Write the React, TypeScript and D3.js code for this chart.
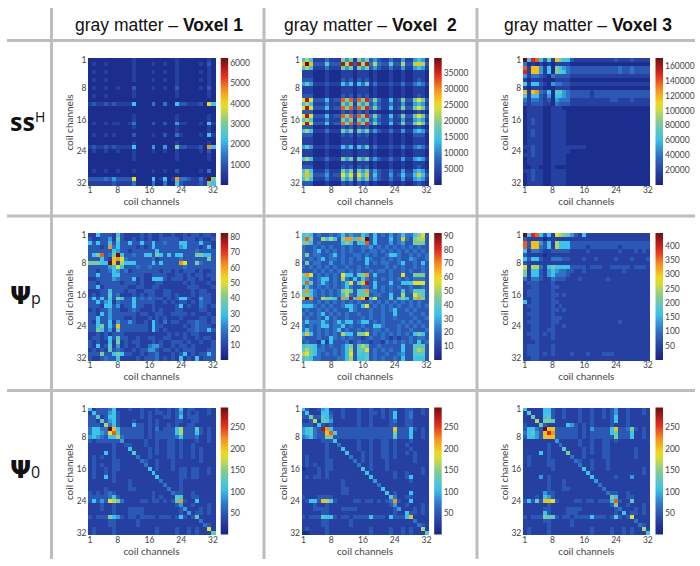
import React from 'react';
import * as d3 from 'd3';

// each matrix row is 32 hex digits, one per coil channel: 0 = floor of the colour bar, f = top
const ssVoxel1 = [
  '0000000000'+'0100000000'+'0010000000'+'10',
  '0100100000'+'0100001001'+'0010000010'+'20',
  '0000000000'+'0100000000'+'0010000000'+'10',
  '0100100000'+'0100001001'+'0010000010'+'10',
  '0000000000'+'0100000000'+'0010000000'+'10',
  '0100100000'+'0100001001'+'0010000010'+'10',
  '0000000000'+'0000000000'+'0010000000'+'10',
  '0100100100'+'0200001001'+'0020000010'+'20',
  '0000000000'+'0100000000'+'0010000000'+'10',
  '0100100000'+'0100000000'+'0010000000'+'10',
  '0000000000'+'0000000000'+'0000000000'+'00',
  '1211212111'+'1500003003'+'0052211120'+'95',
  '0000000000'+'0000000000'+'0000000000'+'00',
  '0000000000'+'0000000000'+'0000000000'+'00',
  '0000000000'+'0100000000'+'0010000000'+'10',
  '0000000000'+'0100000000'+'0010000000'+'10',
  '0100101100'+'1300002002'+'0041100010'+'51',
  '0000000000'+'0100000000'+'0010000000'+'10',
  '0000000000'+'0000000000'+'0010000000'+'10',
  '0100101000'+'0200001002'+'0031000010'+'51',
  '0000000000'+'0000000000'+'0000000000'+'00',
  '0000000000'+'0100000000'+'0010000000'+'10',
  '1211212111'+'1500004004'+'0072211120'+'b5',
  '0100100100'+'0100001001'+'0010000010'+'20',
  '0000000000'+'0100000000'+'0010000000'+'10',
  '0000000000'+'0100000000'+'0010000000'+'10',
  '0000000000'+'0000000000'+'0000000000'+'00',
  '0000000000'+'0000000000'+'0000000000'+'00',
  '0100100100'+'0100001001'+'0020000010'+'30',
  '0000000000'+'0000000000'+'0000000000'+'00',
  '2222324222'+'2900005015'+'01b3321131'+'f7',
  '1111112111'+'1300003003'+'0052111121'+'75',
];

const ssVoxel2 = [
  '5851113111'+'7471747242'+'1131141145'+'41',
  'afa2226222'+'e8e2e8e383'+'226228228a'+'82',
  '5851113111'+'7471747242'+'1131141145'+'41',
  '1110001000'+'1110111010'+'0010010011'+'10',
  '1110001000'+'1110111010'+'0010010011'+'10',
  '2220001000'+'2120212010'+'0010010012'+'10',
  '4641112111'+'5351536131'+'1121131134'+'31',
  '1110001000'+'1110111010'+'0010010011'+'10',
  '1110001000'+'1110111010'+'0010010011'+'10',
  '2220001000'+'2120212010'+'0010010012'+'10',
  '9e92225122'+'c7c2c7d373'+'1151272279'+'72',
  '5851113111'+'7471747242'+'1131141145'+'41',
  '9e92225122'+'c7c2c7d373'+'1151272279'+'72',
  '2220001000'+'2120212010'+'0010010012'+'10',
  '9e92225122'+'c7c2c7d373'+'1151272279'+'72',
  '5851113111'+'7471747242'+'1131141145'+'41',
  '9e92225122'+'c7c2c7d373'+'1151272279'+'72',
  '2220001000'+'2120212010'+'0010010012'+'10',
  '5851113111'+'7471747242'+'1131141145'+'41',
  '2220001000'+'2120212010'+'0010010022'+'20',
  '1110001000'+'1110111010'+'0010010011'+'10',
  '1110001000'+'1110111010'+'0010010011'+'10',
  '4641112111'+'5351536131'+'1121131134'+'31',
  '1110001000'+'1110111010'+'0010010011'+'10',
  '1110001000'+'1110111010'+'0010010011'+'10',
  '5851113111'+'7471747242'+'1131141145'+'41',
  '1110001000'+'1110111010'+'0010010011'+'10',
  '2220001000'+'2120212010'+'0010010012'+'10',
  '5851113111'+'7471747242'+'1131141145'+'41',
  '7a72224122'+'959295a252'+'114125225a'+'52',
  '5851113111'+'7471747242'+'1131141145'+'41',
  '2220001000'+'2120212010'+'0010010012'+'10',
];

const ssVoxel3 = [
  'f5dc5261a7'+'5521111111'+'1112111211'+'11',
  '3010101011'+'1100000000'+'0000000000'+'00',
  'c1aa415075'+'4322222222'+'2222322322'+'22',
  'd1aa415076'+'5322222222'+'2222322322'+'22',
  '4133210322'+'2211111111'+'1111111111'+'11',
  '1011100011'+'1100000000'+'0000000000'+'00',
  '6155210433'+'2211111111'+'1111111111'+'11',
  '1011100011'+'1100000000'+'0000000000'+'00',
  'a1ab325066'+'4322222122'+'2222222222'+'22',
  '6155214055'+'4322222122'+'2222222222'+'22',
  '3133212043'+'3311111111'+'1122111211'+'11',
  '2122211032'+'2211111111'+'1111111111'+'11',
  '0111100111'+'0000000000'+'0000000000'+'00',
  '0111100111'+'1000000000'+'0000000000'+'00',
  '0111100111'+'1000000000'+'0000000000'+'00',
  '0121100111'+'1000000000'+'0000000000'+'00',
  '0121100111'+'1000000000'+'0000000000'+'00',
  '0111100111'+'1000000000'+'0000000000'+'00',
  '0121100111'+'1000000000'+'0000000000'+'00',
  '0121100111'+'1000000000'+'0000000000'+'00',
  '0111100111'+'1000000000'+'0000000000'+'00',
  '0111100111'+'1000000000'+'0000000000'+'00',
  '1121100111'+'1111110000'+'0000000000'+'00',
  '0121100111'+'1100000000'+'0000000000'+'00',
  '1121100111'+'1000000000'+'0000000000'+'00',
  '0111100111'+'1000000000'+'0000000000'+'00',
  '0111100111'+'1000000000'+'0000000000'+'00',
  '0011000100'+'0000000000'+'0000000000'+'00',
  '1121100111'+'1000000000'+'0000000000'+'00',
  '0121100111'+'1000000000'+'0000000000'+'00',
  '0121100111'+'1000000000'+'0000000000'+'00',
  '0111100111'+'1000000000'+'0000000000'+'00',
];

const psiPVoxel1 = [
  '1152221521'+'1112121121'+'1211212212'+'21',
  '2112241721'+'1212121122'+'2221222121'+'12',
  '5252252522'+'5225225223'+'2225522252'+'21',
  '22212b3522'+'2212125222'+'2224522212'+'51',
  '2222225422'+'1222222522'+'2222222322'+'22',
  '257c237f52'+'2322552752'+'5255222775'+'52',
  '222521ab93'+'2222223122'+'2223222222'+'72',
  '77755fa185'+'5522225252'+'222b922732'+'22',
  '2222245952'+'2232232222'+'2222322222'+'22',
  '2212235423'+'1222222212'+'2121222121'+'12',
  '2252225522'+'2222112222'+'1122121221'+'22',
  '1122224322'+'2512115552'+'1222122121'+'12',
  '2212222212'+'2212111221'+'1111212111'+'21',
  '2251222222'+'1122112211'+'1111122211'+'12',
  '1112252221'+'2211222112'+'2111112122'+'11',
  '1212262311'+'1212122112'+'2121112122'+'21',
  '2525252752'+'2523232221'+'2125521142'+'21',
  '2252451322'+'2522222112'+'1212212132'+'21',
  '2221552412'+'2522112111'+'1125121132'+'12',
  '1212242211'+'2321112121'+'1122111122'+'11',
  '2215242222'+'2212211221'+'1222212111'+'21',
  '2252242221'+'1211121212'+'1112111122'+'12',
  '2152251422'+'4211215213'+'1221122322'+'12',
  '2257252a22'+'2222215221'+'1111212322'+'21',
  '2275241622'+'2222215212'+'1111122322'+'52',
  '1121212221'+'1111111111'+'2121212211'+'11',
  '1221252622'+'1121122112'+'2111211212'+'21',
  '2121151712'+'1221112121'+'1222121121'+'12',
  '2151261412'+'1121134421'+'1212212111'+'12',
  '1212162321'+'1212244212'+'2121222111'+'22',
  '2227225752'+'2112122311'+'1212512122'+'52',
  '2112322511'+'1121222312'+'1215121512'+'22',
];

const psiPVoxel2 = [
  '5652322323'+'5343354252'+'3242353357'+'92',
  '5c72285852'+'7bb5b7f252'+'22523a3278'+'82',
  '7752322222'+'575255c252'+'2242342277'+'72',
  '3223232322'+'3232233423'+'2323232323'+'22',
  '3223523232'+'3232232332'+'3232323232'+'32',
  '3723322352'+'3223323232'+'2355322323'+'23',
  '3232352332'+'3232325322'+'3232322432'+'23',
  '2723322422'+'3232225232'+'3322352232'+'52',
  '3232323232'+'2322323222'+'2323232232'+'32',
  '2223232323'+'3232322323'+'3232232322'+'32',
  '7b92323232'+'955267b252'+'2232292277'+'72',
  '5532355232'+'8325253232'+'3232323233'+'32',
  '6c62353232'+'35926ae252'+'2252255599'+'92',
  '3532323232'+'3532233252'+'3232322322'+'32',
  '6b53232323'+'787266b332'+'3232252366'+'62',
  '6753232323'+'5832667233'+'2252282297'+'62',
  'afb2287752'+'b5e5baf592'+'226257527b'+'72',
  '3332323232'+'3232322323'+'2323232323'+'22',
  '5553232322'+'3553259232'+'3232322323'+'23',
  '2322323232'+'2253222322'+'3235223232'+'22',
  '3232352323'+'2322322322'+'3225222322'+'32',
  '2322325232'+'2322232322'+'3223222232'+'23',
  '3533353235'+'3552355232'+'3222232323'+'22',
  '3232355233'+'5232232255'+'3222323232'+'32',
  '3532323235'+'2322323233'+'2322322322'+'23',
  '5a52323232'+'8552779232'+'3232323257'+'52',
  '3222322532'+'3232212322'+'3212122323'+'32',
  '2322151522'+'2312322122'+'1323232325'+'23',
  '5665232322'+'3572686223'+'2222252266'+'62',
  '6865332232'+'3582669232'+'3232252268'+'72',
  '8965323232'+'3592656232'+'2322342266'+'62',
  '5653322223'+'3582556232'+'3223252255'+'52',
];

const psiPVoxel3 = [
  'f5dc525198'+'7642151111'+'1111111111'+'11',
  '2111101111'+'1111111111'+'1111111111'+'11',
  'c2aa425185'+'5522222222'+'2222222222'+'22',
  'c2aa325185'+'5522221222'+'2222122222'+'22',
  '5133211222'+'2211112111'+'1111211121'+'21',
  '2111101111'+'1111111111'+'1111111111'+'11',
  '5255211333'+'2211121121'+'1112111211'+'12',
  '2111111111'+'1111111111'+'1111111111'+'11',
  '9188315755'+'5522221222'+'1122222122'+'21',
  '7155214543'+'3221121111'+'1111121111'+'11',
  '7155214533'+'3211111111'+'1111111111'+'11',
  '3133211322'+'2111211111'+'1211111111'+'11',
  '1222111211'+'1111111111'+'1111111111'+'11',
  '1122111221'+'1111111111'+'1111111111'+'11',
  '1222111211'+'1111111111'+'1111111111'+'11',
  '1222111221'+'2111111111'+'1111111111'+'11',
  '1122111211'+'1111111111'+'1111111111'+'11',
  '5122111221'+'1111111111'+'1111111111'+'11',
  '1222111212'+'1111111111'+'1111111111'+'11',
  '1122111221'+'2111111111'+'1111111111'+'11',
  '1222111211'+'1111111111'+'1111111111'+'11',
  '1122111222'+'1111111111'+'1111111111'+'11',
  '1222111221'+'1111111111'+'1111211111'+'11',
  '1122111211'+'2111111111'+'1111111111'+'11',
  '1122112211'+'1111111111'+'1111111111'+'11',
  '1222121211'+'1111111111'+'1111111111'+'11',
  '1122111211'+'1111111111'+'1111111111'+'11',
  '1112111111'+'1111111111'+'1111111111'+'11',
  '1222111211'+'1111111111'+'1111111111'+'11',
  '1222111211'+'1111111111'+'1111111111'+'11',
  '1222121211'+'1121112111'+'2221111111'+'11',
  '1122111111'+'1111111111'+'1111111111'+'11',
];

const psi0Voxel1 = [
  '5122235111'+'2112111211'+'2125122111'+'21',
  '1522245211'+'1112121221'+'2124121211'+'21',
  '2261255211'+'1112121112'+'2125122211'+'11',
  '2216245211'+'1211121211'+'1122112211'+'11',
  '2221835211'+'1522121211'+'2121122111'+'11',
  '35533fa522'+'2222121312'+'2258222621'+'21',
  '355439c622'+'2222121222'+'2258222521'+'21',
  '4543255832'+'2222121222'+'2235222311'+'21',
  '2122222241'+'1111211211'+'2212111211'+'21',
  '1111112112'+'2111211211'+'2212112111'+'11',
  '1111112111'+'5111121211'+'2212112121'+'11',
  '1111512111'+'1611121211'+'2212112121'+'11',
  '1212112111'+'1131121111'+'2212112121'+'11',
  '1211112211'+'1113211211'+'1211111121'+'11',
  '1212112211'+'1111311211'+'1211111111'+'11',
  '1211212211'+'1111151211'+'1212212211'+'21',
  '1211212111'+'1111115111'+'1112212211'+'21',
  '1211512111'+'1111111511'+'1112212211'+'11',
  '1111112111'+'2111111131'+'1112111111'+'11',
  '1111111111'+'2111111113'+'1112111111'+'11',
  '1111211111'+'2211111111'+'3112111111'+'11',
  '2121232111'+'1111112111'+'1322112111'+'11',
  '2222235211'+'1111112121'+'1165112211'+'11',
  '2524298731'+'1112212212'+'126b211511'+'11',
  '1112112111'+'1111111111'+'1124112111'+'21',
  '1112112111'+'2222111111'+'1112411121'+'21',
  '1111112111'+'2222111111'+'1112141221'+'21',
  '2122275421'+'2212222122'+'2125212611'+'11',
  '1111122111'+'1121111111'+'1111111131'+'11',
  '1111122111'+'1121111111'+'1111111113'+'21',
  '1211112111'+'1111111211'+'1121121211'+'91',
  '1211112111'+'1111111211'+'1121121211'+'16',
];

const psi0Voxel2 = [
  '5211245111'+'2111211211'+'2122112211'+'21',
  '2511155211'+'2111211221'+'2125112311'+'21',
  '2272265311'+'2111211211'+'2125112311'+'11',
  '1128166411'+'1111211211'+'1123112211'+'11',
  '2221521211'+'1111211211'+'1122112211'+'11',
  '45632eb522'+'2222222222'+'222a222521'+'21',
  '456322ac62'+'2222222222'+'2227222511'+'21',
  '3453227722'+'2222222222'+'2226222511'+'21',
  '1111122251'+'1111211211'+'2212111211'+'11',
  '1111112113'+'1111211211'+'2212112111'+'11',
  '1111112111'+'5111211211'+'2212111211'+'11',
  '1111112111'+'1511121211'+'2212112121'+'11',
  '1211112111'+'1131121211'+'2212111121'+'11',
  '1211112211'+'1113121211'+'1211111121'+'11',
  '1212112211'+'1111311211'+'1211111111'+'11',
  '0111212211'+'1111151211'+'1211111111'+'21',
  '1111212111'+'1111115111'+'1112112111'+'21',
  '1212212111'+'1111111511'+'1112112511'+'11',
  '1111111111'+'2111111141'+'1111111211'+'11',
  '1111111111'+'2111111113'+'1111111111'+'11',
  '1111111111'+'2211111111'+'5111111111'+'11',
  '1111111111'+'2211111111'+'1512111511'+'11',
  '2111222211'+'1111111111'+'1163112211'+'11',
  '1255 2a8621'.replace(' ', '').padEnd(10, '1')+'1112212212'+'123b211511'+'11',
  '1112112111'+'1111111111'+'1124112111'+'21',
  '1112222111'+'2222111111'+'1112411121'+'21',
  '1111122111'+'1111111111'+'1112115221'+'21',
  '2122265521'+'2212222522'+'2152225a11'+'11',
  '1111122111'+'1121111111'+'1111111131'+'11',
  '1111122111'+'1121111111'+'1111111113'+'21',
  '1211112111'+'1111111211'+'1121121211'+'81',
  '0011112111'+'1111111211'+'1121121211'+'16',
];

const psi0Voxel3 = [
  '5111155211'+'2111211211'+'2124112111'+'21',
  '1611155211'+'2111211211'+'2124112111'+'21',
  '1161156211'+'2111211211'+'2125112111'+'11',
  '1118177611'+'1111211211'+'1125112111'+'11',
  '2111621111'+'1542121211'+'1121112111'+'11',
  '25532faa22'+'2222121422'+'225a223721'+'21',
  '35642adb22'+'2222121222'+'2256222511'+'21',
  '25542aaa22'+'2222121222'+'2227222511'+'21',
  '1111111141'+'1111211211'+'2212111111'+'11',
  '1111112113'+'1111211211'+'2211111111'+'11',
  '1111112111'+'6111121211'+'2211111121'+'11',
  '1111512111'+'1711121211'+'2211111121'+'11',
  '1211112111'+'1131121111'+'2211111121'+'11',
  '1211112211'+'1113211211'+'1211111111'+'11',
  '1211112211'+'1111311211'+'1211111111'+'11',
  '1111111211'+'1111151211'+'1211111111'+'21',
  '1111111111'+'1111115111'+'1111111111'+'21',
  '1111412111'+'1111111511'+'1112111411'+'11',
  '1111112111'+'2111111141'+'1111111111'+'11',
  '1111112111'+'2111111113'+'1111111111'+'11',
  '1111112111'+'2211111111'+'3111111111'+'11',
  '1111142211'+'1111111111'+'1322112111'+'11',
  '1112154211'+'1111111111'+'1175112211'+'11',
  '25262aa921'+'1112212212'+'225c211611'+'11',
  '1111112111'+'1111111111'+'1127112111'+'21',
  '1111122111'+'1222211111'+'1112311121'+'21',
  '1111152111'+'1222111111'+'1112151221'+'21',
  '2122276621'+'2212222522'+'2126212911'+'11',
  '1111122111'+'1121111111'+'1111111131'+'11',
  '1111112111'+'1121111111'+'1111111113'+'21',
  '1211112111'+'1111111211'+'1121121211'+'81',
  '1211112111'+'1111111211'+'1121121211'+'15',
];

const channelTicks = [1, 8, 16, 24, 32];
const channels = d3.range(1, 33);
const voxelHeads = ['1', ' 2', '3'];
const headX = [75, 284, 504];

const ssTicks = [
  [1000, 2000, 3000, 4000, 5000, 6000],
  [5000, 10000, 15000, 20000, 25000, 30000, 35000],
  [20000, 40000, 60000, 80000, 100000, 120000, 140000, 160000],
];
const psiPTicks = [
  [10, 20, 30, 40, 50, 60, 70, 80],
  [10, 20, 30, 40, 50, 60, 70, 80, 90],
  [50, 100, 150, 200, 250, 300, 350, 400],
];
const psi0Ticks = [50, 100, 150, 200, 250];

const panels = [
  { rows: ssVoxel1, max: 6250, ticks: ssTicks[0], col: 0, row: 0 },
  { rows: ssVoxel2, max: 39600, ticks: ssTicks[1], col: 1, row: 0 },
  { rows: ssVoxel3, max: 170700, ticks: ssTicks[2], col: 2, row: 0 },
  { rows: psiPVoxel1, max: 82.4, ticks: psiPTicks[0], col: 0, row: 1 },
  { rows: psiPVoxel2, max: 92, ticks: psiPTicks[1], col: 1, row: 1 },
  { rows: psiPVoxel3, max: 445, ticks: psiPTicks[2], col: 2, row: 1 },
  { rows: psi0Voxel1, max: 296, ticks: psi0Ticks, col: 0, row: 2 },
  { rows: psi0Voxel2, max: 296, ticks: psi0Ticks, col: 1, row: 2 },
  { rows: psi0Voxel3, max: 296, ticks: psi0Ticks, col: 2, row: 2 },
];

const colX = [88, 301.5, 522.8];
const rowY = [58, 233, 407.5];
const mapSize = 127;
const barGap = 5.7;
const barW = 7.5;

// the printed jet map, slightly washed out
const jet = d3.scaleLinear<string>()
  .domain([0, 0.12, 0.24, 0.36, 0.5, 0.63, 0.75, 0.87, 1])
  .range(['#1b2480', '#2844a6', '#2f76c8', '#3cc3ea', '#84cb90', '#efe21f', '#f5911f', '#e3241f', '#6c1110'])
  .clamp(true);

const grid = '#bdbdbd';
const tickFont = 'Lato, "Open Sans", sans-serif';

function Panel({ rows, max, ticks, col, row, id }) {
  const x0 = colX[col];
  const y0 = rowY[row];
  const xBand = d3.scaleBand<number>().domain(channels).range([x0, x0 + mapSize]);
  const yBand = d3.scaleBand<number>().domain(channels).range([y0, y0 + mapSize]);
  const barX = x0 + mapSize + barGap;
  const barY = d3.scaleLinear().domain([0, max]).range([y0 + mapSize, y0]);
  const fill = (level: number) => jet(0.04 + (0.96 * level) / 15);
  return (
    <g>
      <g shapeRendering="crispEdges" filter="url(#soft)">
        {rows.map((r: string, i: number) =>
          channels.map((c, j) => (
            <rect
              key={j}
              x={xBand(c)}
              y={yBand(i + 1)}
              width={xBand.bandwidth() + 0.5}
              height={yBand.bandwidth() + 0.5}
              fill={fill(parseInt(r[j] ?? '0', 16))}
            />
          ))
        )}
      </g>
      <rect x={barX} y={y0} width={barW} height={mapSize} fill={`url(#${id})`} />
      <g fontFamily={tickFont} fontSize={8.5} fill="#444">
        {channelTicks.map((t) => (
          <text key={t} x={xBand(t)! + xBand.bandwidth() / 2} y={y0 + mapSize + 8} textAnchor="middle">{t}</text>
        ))}
        {channelTicks.map((t) => (
          <text key={t} x={x0 - 1.5} y={yBand(t)! + yBand.bandwidth() / 2 + 3} textAnchor="end">{t}</text>
        ))}
        {ticks.map((t: number) => (
          <text key={t} x={barX + barW + 2} y={barY(t) + 3}>{t}</text>
        ))}
      </g>
      <g fontFamily={tickFont} fontSize={10} fill="#444" textAnchor="middle">
        <text x={x0 + mapSize / 2} y={y0 + mapSize + 20}>coil channels</text>
        <text transform={`translate(${x0 - 15},${y0 + mapSize / 2 + 1}) rotate(-90)`}>coil channels</text>
      </g>
    </g>
  );
}

export default function App() {
  const stops = d3.range(0, 1.001, 0.05);
  return (
    <svg width={700} height={566} style={{ position: 'absolute', left: 0, top: 0, background: '#fff' }}>
      <defs>
        <linearGradient id="jetBar" x1="0" y1="1" x2="0" y2="0">
          {stops.map((s) => (
            <stop key={s} offset={s} stopColor={jet(s)} />
          ))}
        </linearGradient>
        <filter id="soft" x="-2%" y="-2%" width="104%" height="104%">
          <feGaussianBlur stdDeviation="0.35" />
        </filter>
      </defs>

      <g fill={grid}>
        <rect x={50} y={8} width={3} height={551} />
        <rect x={262.5} y={8} width={3} height={551} />
        <rect x={475.5} y={8} width={3} height={551} />
        <rect x={7} y={39} width={688} height={3} />
        <rect x={7} y={214.5} width={688} height={3} />
        <rect x={7} y={389} width={688} height={3} />
      </g>

      {voxelHeads.map((v, i) => (
        <text key={i} x={headX[i]} y={31} fontFamily="Liberation Sans, sans-serif" fontSize={17.5} fill="#111" xmlSpace="preserve">
          gray matter – <tspan fontWeight="bold">{'Voxel ' + v}</tspan>
        </text>
      ))}

      <g fill="#111" fontFamily="Open Sans, sans-serif">
        <text x={10} y={131} fontSize={25} fontWeight="bold">ss</text>
        <text x={35} y={122} fontSize={14}>H</text>
        <text x={10} y={304} fontSize={25} fontWeight="bold" fontFamily="DejaVu Sans">Ψ</text>
        <text x={31} y={304} fontSize={16}>p</text>
        <text x={10} y={478} fontSize={25} fontWeight="bold" fontFamily="DejaVu Sans">Ψ</text>
        <text x={31} y={478} fontSize={16}>0</text>
      </g>

      {panels.map((p, i) => (
        <Panel key={i} {...p} id="jetBar" />
      ))}
    </svg>
  );
}
